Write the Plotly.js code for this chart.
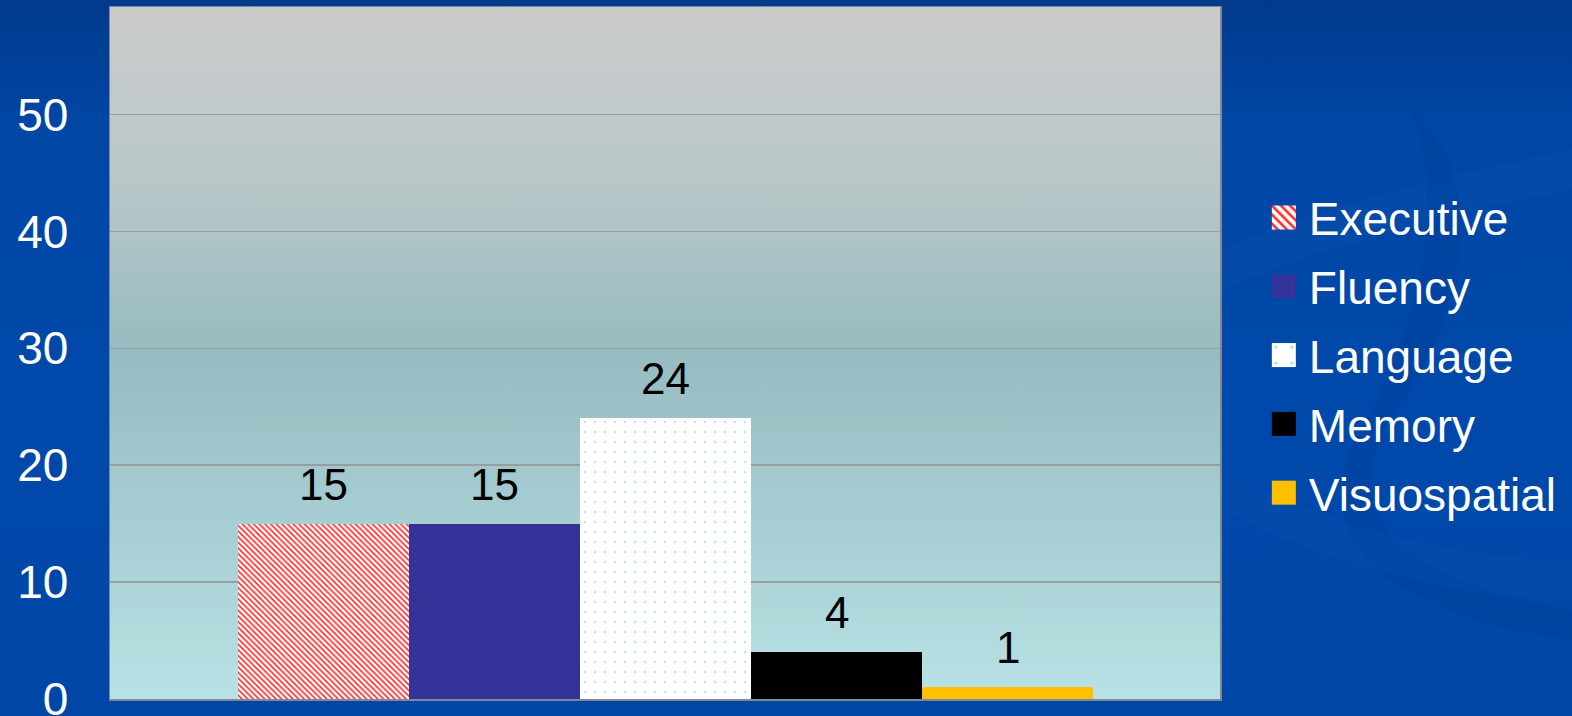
<!DOCTYPE html>
<html>
<head>
<meta charset="utf-8">
<script src="https://cdn.plot.ly/plotly-3.0.1.min.js"></script>
<style>
  html, body { margin: 0; padding: 0; }
  body {
    width: 1572px; height: 716px; overflow: hidden;
    background: linear-gradient(to bottom, #003a8c 0%, #0047a6 18%, #0049aa 60%, #0046a6 100%);
  }
  #chart { width: 1572px; height: 716px; }
</style>
</head>
<body>
<div id="chart"></div>
<script>
// ---- data ----
const seriesNames = ["Executive", "Fluency", "Language", "Memory", "Visuospatial"];
const seriesValues = [15, 15, 24, 4, 1];
const seriesColors = ["#ffffff", "#333399", "#ffffff", "#000000", "#ffc000"];
const yTickValues = [0, 10, 20, 30, 40, 50];

const patterns = [
  { shape: "\\", fgcolor: "#ff2a2a", bgcolor: "#ffffff", size: 4, solidity: 0.4, fillmode: "replace" },
  null,
  { shape: ".", fgcolor: "#a6dada", bgcolor: "#ffffff", size: 10, solidity: 0.03, fillmode: "replace" },
  null,
  null
];

const traces = seriesNames.map((name, i) => {
  const marker = { color: seriesColors[i], line: { width: 0 } };
  if (patterns[i]) marker.pattern = patterns[i];
  return {
    type: "bar",
    name: name,
    x: [name],
    y: [seriesValues[i]],
    marker: marker,
    legendgroup: name,
    hoverinfo: "skip"
  };
});

const annotations = seriesNames.map((name, i) => ({
  x: name, y: seriesValues[i], xref: "x", yref: "y",
  text: String(seriesValues[i]), showarrow: false,
  yanchor: "bottom", yshift: 13,
  font: { family: "Liberation Sans, Arial, sans-serif", size: 44, color: "#000000" }
}));

const plotGrad = 'data:image/svg+xml;utf8,' + encodeURIComponent(
  '<svg xmlns="http://www.w3.org/2000/svg" width="100" height="100" preserveAspectRatio="none">' +
  '<defs><linearGradient id="g" x1="0" y1="0" x2="0" y2="1">' +
  '<stop offset="0" stop-color="#cbcbcb"/>' +
  '<stop offset="0.25" stop-color="#b9c7c8"/>' +
  '<stop offset="0.5" stop-color="#96bbc0"/>' +
  '<stop offset="1" stop-color="#b8e2e5"/>' +
  '</linearGradient></defs><rect width="100" height="100" fill="url(#g)"/></svg>');

const swoosh = 'data:image/svg+xml;utf8,' + encodeURIComponent(
  '<svg xmlns="http://www.w3.org/2000/svg" width="352" height="716" viewBox="0 0 352 716" preserveAspectRatio="none">' +
  '<path d="M0,250 C120,200 250,170 352,150 L352,190 C250,210 120,240 0,290 Z" fill="#0a4fb0" opacity="0.35"/>' +
  '<path d="M190,110 C260,160 260,300 170,420 C120,500 160,560 300,600 L352,610 L352,640 C200,620 90,560 130,450 C200,330 230,200 190,110 Z" fill="#003f98" opacity="0.35"/>' +
  '<path d="M0,470 C100,520 230,560 352,560 L352,600 C230,600 100,560 0,510 Z" fill="#0a4fb0" opacity="0.3"/>' +
  '</svg>');

const layout = {
  width: 1572, height: 716,
  margin: { l: 110, r: 352, t: 7, b: 17, pad: 0 },
  paper_bgcolor: "rgba(0,0,0,0)",
  plot_bgcolor: "rgba(0,0,0,0)",
  barmode: "overlay",
  bargap: 0,
  showlegend: true,
  font: { family: "Liberation Sans, Arial, sans-serif", color: "#ffffff", size: 46 },
  xaxis: {
    type: "category",
    categoryorder: "array",
    categoryarray: seriesNames,
    range: [-1.25, 5.24],
    showticklabels: false,
    showgrid: false,
    zeroline: false,
    showline: true, mirror: true, linecolor: "#7d8a96", linewidth: 1.5,
    ticks: ""
  },
  yaxis: {
    range: [0, 59.2],
    tickvals: yTickValues,
    ticktext: yTickValues.map(String),
    showgrid: true, gridcolor: "#9a9d9d", gridwidth: 1.5,
    zeroline: false,
    showline: true, mirror: true, linecolor: "#7d8a96", linewidth: 1.5,
    ticks: "",
    ticklabelstandoff: 31,
    ticklabeloverflow: "allow",
    tickfont: { family: "Liberation Sans, Arial, sans-serif", size: 46, color: "#ffffff" }
  },
  legend: {
    x: 1.044, y: 0.497, xanchor: "left", yanchor: "middle",
    bgcolor: "rgba(0,0,0,0)",
    font: { family: "Liberation Sans, Arial, sans-serif", size: 46, color: "#ffffff" },
    traceorder: "grouped",
    tracegroupgap: 6,
    itemwidth: 30
  },
  annotations: annotations,
  images: [
    { source: plotGrad, xref: "paper", yref: "paper", x: 0, y: 1, sizex: 1, sizey: 1,
      xanchor: "left", yanchor: "top", sizing: "stretch", layer: "below" },
    { source: swoosh, xref: "paper", yref: "paper", x: 1, y: 1.0101, sizex: 352/1110, sizey: 716/692,
      xanchor: "left", yanchor: "top", sizing: "stretch", layer: "below" }
  ]
};

Plotly.newPlot("chart", traces, layout, { staticPlot: true, displayModeBar: false }).then(gd => {
  gd.querySelectorAll(".legend .legendpoints path").forEach(p => {
    const t = p.getAttribute("transform") || "";
    p.setAttribute("transform", "translate(-5,0) " + t + " scale(2)");
    p.style.strokeWidth = "0.5px";
  });
});
</script>
</body>
</html>
